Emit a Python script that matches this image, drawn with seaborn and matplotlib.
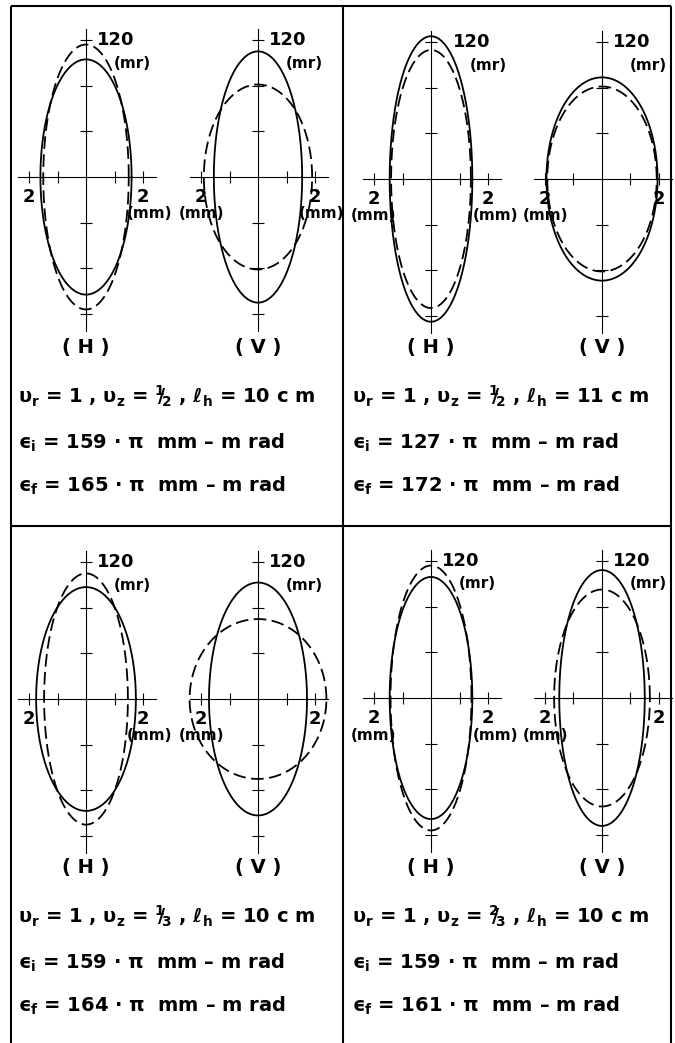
import numpy as np
import pandas as pd
import matplotlib
matplotlib.use('Agg')
import matplotlib.pyplot as plt
import seaborn as sns

# ellipse half-width (mm) and half-height (mr), panels a..d
h_solid_mm = [1.60, 1.45, 1.75, 1.45]
h_solid_mr = [103, 125, 98, 106]
h_dash_mm = [1.50, 1.40, 1.47, 1.42]
h_dash_mr = [116, 113, 110, 116]
v_solid_mm = [1.55, 1.95, 1.72, 1.50]
v_solid_mr = [110, 89, 102, 112]
v_dash_mm = [1.90, 1.92, 2.40, 1.68]
v_dash_mr = [81, 81, 70, 95]

x_ticks = [-2, -1, 1, 2]
y_ticks = [-120, -80, -40, 40, 80, 120]
top_label = '120'
x_label = '2'

# "(mm)" under the [left, right] "2" labels
h_mm = [[False, True], [True, True], [False, True], [True, True]]
v_mm = [[True, True], [True, False], [True, False], [True, False]]

nu_z_num = [1, 1, 1, 2]
nu_z_den = [2, 2, 3, 3]
l_h = [10, 11, 10, 10]
eps_i = [159, 127, 159, 159]
eps_f = [165, 172, 164, 161]

# layout in pixels
W, H = 675, 1043
PX_MM = 28.5
PX_MR = 1.142
centers_x = [[86, 258], [431, 602], [86, 258], [431, 602]]
centers_y = [177, 179, 699, 698]
label_shift = [11, 22, 11, 11]  # where "120" starts right of the H axis
panel_left = [18, 352, 18, 352]
panel_top = [6, 6, 526, 526]

sns.set_style('white')
plt.rcParams['font.family'] = ['DejaVu Sans']
plt.rcParams['font.weight'] = 'bold'
plt.rcParams['text.color'] = 'black'
plt.rcParams['mathtext.fontset'] = 'custom'
plt.rcParams['mathtext.rm'] = 'DejaVu Sans:bold'
plt.rcParams['mathtext.it'] = 'DejaVu Sans:bold'
plt.rcParams['mathtext.bf'] = 'DejaVu Sans:bold'

fig = plt.figure(figsize=(W / 100, H / 100), dpi=100)
bg = fig.add_axes([0, 0, 1, 1])
bg.set_xlim(0, W)
bg.set_ylim(H, 0)
bg.axis('off')

# frame
frame_kw = dict(color='black', lw=1.5, solid_capstyle='butt')
bg.plot([11, 671], [6, 6], **frame_kw)
bg.plot([11, 11], [6, H], **frame_kw)
bg.plot([671, 671], [6, H], **frame_kw)
bg.plot([343, 343], [6, H], **frame_kw)
bg.plot([11, 671], [526, 526], **frame_kw)

t = np.linspace(0, 2 * np.pi, 361)


def ellipse_df(a1, b1, a2, b2):
    parts = []
    for kind, a, b in [('solid', a1, b1), ('dashed', a2, b2)]:
        parts.append(pd.DataFrame({'x': a * np.cos(t), 'y': b * np.sin(t), 'kind': kind}))
    return pd.concat(parts, ignore_index=True)


def phase_plot(cx, cy, df, mm_flags, shift):
    hw, hh = 95, 175
    ax = fig.add_axes([(cx - hw) / W, 1 - (cy + hh) / H, 2 * hw / W, 2 * hh / H])
    ax.patch.set_visible(False)
    sns.lineplot(data=df, x='x', y='y', style='kind',
                 dashes={'solid': '', 'dashed': (7, 3)},
                 sort=False, estimator=None, color='black', lw=1.3,
                 legend=False, ax=ax)
    ax.set_xlim(-hw / PX_MM, hw / PX_MM)
    ax.set_ylim(-hh / PX_MR, hh / PX_MR)
    for s in ['top', 'right']:
        ax.spines[s].set_visible(False)
    ax.spines['left'].set_position('zero')
    ax.spines['bottom'].set_position('zero')
    ax.spines['left'].set_bounds(-135, 130)
    ax.spines['bottom'].set_bounds(-2.4, 2.45)
    for s in ['left', 'bottom']:
        ax.spines[s].set_linewidth(0.8)
        ax.spines[s].set_color('black')
    ax.set_xticks(x_ticks)
    ax.set_yticks(y_ticks)
    ax.tick_params(direction='inout', length=9, width=0.8, color='black',
                   labelbottom=False, labelleft=False, bottom=True, left=True)
    ax.set_xlabel('')
    ax.set_ylabel('')

    # labels in pixel space
    bg.text(cx + shift, cy - 120 * PX_MR, top_label, fontsize=13, ha='left', va='center')
    bg.text(cx + shift + 17, cy - 114, '(mr)', fontsize=11, ha='left', va='center')
    for side, flag in zip([-1, 1], mm_flags):
        tx = cx + side * 2 * PX_MM
        bg.text(tx, cy + 20, x_label, fontsize=13, ha='center', va='center')
        if flag:
            off = 7 if side > 0 else 0
            bg.text(tx + off, cy + 37, '(mm)', fontsize=11, ha='center', va='center')


for i in range(4):
    cy = centers_y[i]
    hx, vx = centers_x[i]
    phase_plot(hx, cy, ellipse_df(h_solid_mm[i], h_solid_mr[i], h_dash_mm[i], h_dash_mr[i]),
               h_mm[i], label_shift[i])
    phase_plot(vx, cy, ellipse_df(v_solid_mm[i], v_solid_mr[i], v_dash_mm[i], v_dash_mr[i]),
               v_mm[i], 11)

    top = panel_top[i]
    x0 = panel_left[i]
    bg.text(hx, top + 341, '( H )', fontsize=14, ha='center', va='center')
    bg.text(vx, top + 341, '( V )', fontsize=14, ha='center', va='center')
    frac = r'$^{%d}\!\!/\!_{%d}$' % (nu_z_num[i], nu_z_den[i])
    line1 = (r'$\upsilon_{\rm r}$ = 1 , $\upsilon_{\rm z}$ = ' + frac
             + r' , $\ell_{\rm h}$ = ' + f'{l_h[i]} c m')
    bg.text(x0, top + 390, line1, fontsize=14, ha='left', va='center')
    bg.text(x0, top + 437, r'$ϵ_{\rm i}$ = ' + f'{eps_i[i]} · ' + r'$\pi$' + '  mm – m rad',
            fontsize=14, ha='left', va='center')
    bg.text(x0, top + 480, r'$ϵ_{\rm f}$ = ' + f'{eps_f[i]} · ' + r'$\pi$' + '  mm – m rad',
            fontsize=14, ha='left', va='center')

fig.savefig('out.png', dpi=100)
